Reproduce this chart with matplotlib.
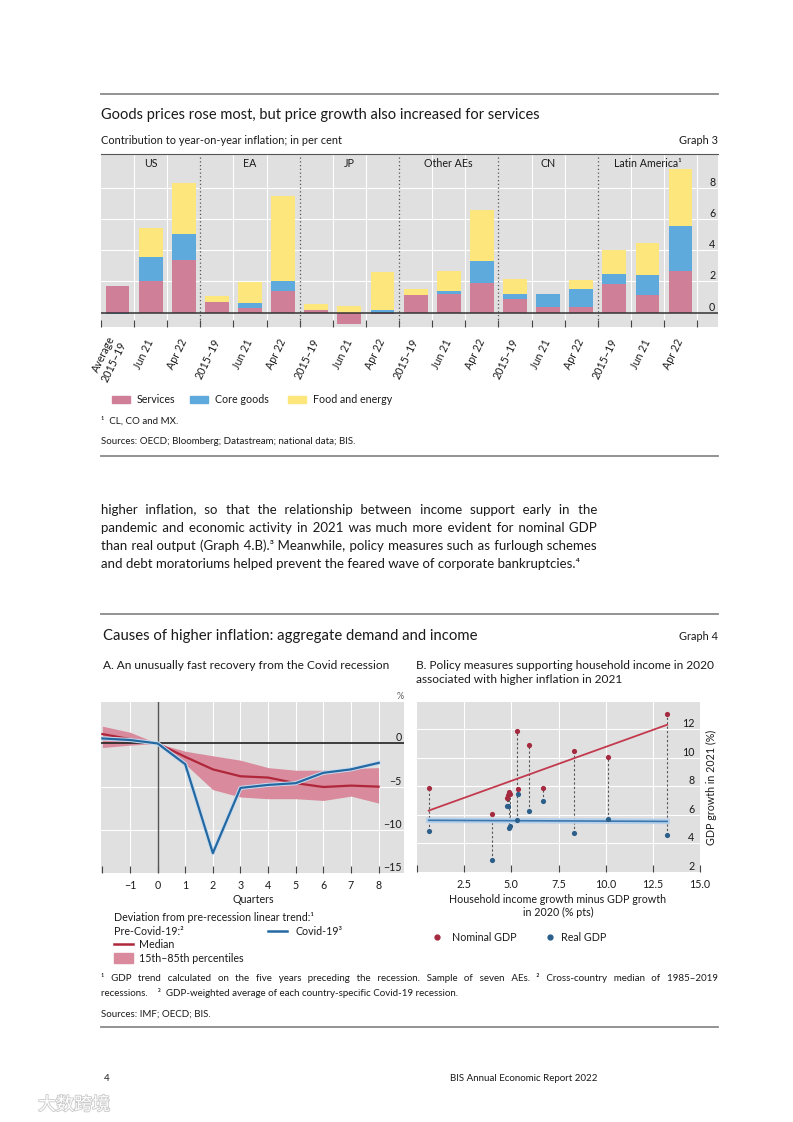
import numpy as np
import matplotlib
matplotlib.use("Agg")
import matplotlib.pyplot as plt
import matplotlib.transforms as mtransforms
import matplotlib.patheffects as pe
from matplotlib.lines import Line2D
from matplotlib.patches import Rectangle

plt.rcParams['font.family'] = ['Lato', 'DejaVu Sans']

W, H = 793, 1122

# ---- Graph 3: contributions to inflation (per cent)
regions = ["US", "EA", "JP", "Other AEs", "CN", "Latin America¹"]
periods = ["2015–19", "Jun 21", "Apr 22"]
services = [1.70, 2.00, 3.34, 0.68, 0.32, 1.38, 0.19, -0.74, -0.08,
            1.10, 1.17, 1.91, 0.85, 0.36, 0.36, 1.81, 1.15, 2.64]
core_goods = [-0.12, 1.55, 1.70, 0.00, 0.28, 0.64, 0.00, 0.00, 0.15,
              0.00, 0.19, 1.37, 0.32, 0.85, 1.13, 0.64, 1.23, 2.91]
food_energy = [0.00, 1.88, 3.26, 0.38, 1.36, 5.47, 0.34, 0.43, 2.45,
               0.40, 1.30, 3.29, 1.00, 0.00, 0.62, 1.53, 2.07, 3.64]

# ---- Graph 4.A: deviation from pre-recession trend (%)
quarters = [-2, -1, 0, 1, 2, 3, 4, 5, 6, 7, 8]
median = [1.09, 0.50, 0.0, -1.55, -3.00, -3.80, -3.95, -4.60, -5.04, -4.88, -5.00]
pct15 = [-0.47, -0.20, 0.0, -2.40, -5.35, -6.20, -6.40, -6.40, -6.60, -6.10, -6.90]
pct85 = [2.00, 1.30, 0.0, -0.90, -1.43, -1.94, -2.80, -3.10, -3.10, -2.90, -2.80]
covid = [0.58, 0.40, 0.0, -2.40, -12.70, -5.15, -4.80, -4.60, -3.40, -3.00, -2.25]

# ---- Graph 4.B: household income vs GDP growth
hh_income = [0.62, 3.99, 4.78, 4.84, 4.88, 4.92, 5.28, 5.37, 5.96, 6.70, 8.30, 10.10, 13.26]
nominal_gdp = [7.89, 6.06, 7.15, 7.38, 7.61, 7.47, 11.84, 7.80, 10.91, 7.89, 10.50, 10.04, 13.06]
real_gdp = [4.84, 2.83, 6.64, 6.60, 5.07, 5.19, 5.67, 7.45, 6.30, 6.97, 4.73, 5.72, 4.61]

GREY_BG = "#e0e0e0"
C_SERV = "#cf7f98"
C_CORE = "#5eaadd"
C_FOOD = "#fde77c"
C_RED = "#b0263a"
C_BAND = "#d98a9c"
C_BLUE = "#2468a2"
C_DOT_RED = "#a52a3f"
C_DOT_BLUE = "#2b5f8a"
TXT = "#1a1a1a"
HAIR = "\u200a"

fig = plt.figure(figsize=(W / 100, H / 100), dpi=100)
renderer = fig.canvas.get_renderer()


def fp(x, y):
    return x / W, 1 - y / H


def text_width(s, size):
    t = fig.text(0, 0, s, fontsize=size)
    w = t.get_window_extent(renderer).width
    t.remove()
    return w


def advance(s, size):
    # width a piece of text takes inside a line (without the bbox padding)
    return text_width("x" + s + "x", size) - text_width("xx", size)


def fit(s, width):
    return 10 * width / text_width(s, 10)


def put(x, y, s, size, ha="left", **kw):
    # y is the visual middle of lower-case text, placed through the baseline
    base = y + 0.35 * size * 100 / 72
    return fig.text(*fp(x, base), s, fontsize=size, ha=ha, va="baseline", color=TXT, **kw)


def justify(line, x0, x1, y, size, last=False):
    # one text object per line; word gaps are widened with hair spaces
    words = line.split()
    if last or len(words) < 2:
        put(x0, y, " ".join(words), size)
        return
    extra = (x1 - x0 - text_width(" ".join(words), size)) / (len(words) - 1)
    hair = advance(HAIR, size)
    out = words[0]
    for i, w in enumerate(words[1:]):
        k = round((i + 1) * extra / hair) - round(i * extra / hair)
        out += " " + HAIR * max(k, 0) + w
    put(x0, y, out, size)


def rule(y):
    fig.add_artist(Line2D([101 / W, 718 / W], [1 - y / H] * 2, color="#8a8a8a", lw=1.3))


def axes_px(l, t, r, b):
    ax = fig.add_axes([l / W, 1 - b / H, (r - l) / W, (b - t) / H])
    ax.set_facecolor(GREY_BG)
    for s in ax.spines.values():
        s.set_visible(False)
    return ax


def minus(v):
    return str(v).replace("-", "−")


s_title = fit("Goods prices rose most, but price growth also increased for services", 439)
s_sub = fit("Contribution to year-on-year inflation; in per cent", 240)
s_note = fit("Sources: OECD; Bloomberg; Datastream; national data; BIS.", 257)
s_axis = fit("Household income growth minus GDP growth", 216)
s_body = fit("and debt moratoriums helped prevent the feared wave of corporate bankruptcies.⁴", 483)

# ================= Graph 3 =================
rule(94)
put(101, 114, "Goods prices rose most, but price growth also increased for services", s_title)
put(101, 140, "Contribution to year-on-year inflation; in per cent", s_sub)
put(718, 140, "Graph 3", s_sub, ha="right")

ax3 = axes_px(101, 154, 718, 327)
ax3.spines["top"].set_visible(True)
ax3.spines["top"].set_color("#555555")
n = len(services)
xb = np.arange(n)
pos_base = np.zeros(n)
neg_base = np.zeros(n)
for vals, col in [(services, C_SERV), (core_goods, C_CORE), (food_energy, C_FOOD)]:
    v = np.array(vals)
    bottom = np.where(v >= 0, pos_base, neg_base)
    ax3.bar(xb, v, bottom=bottom, width=0.72, color=col, zorder=3)
    pos_base += np.clip(v, 0, None)
    neg_base += np.clip(v, None, 0)

ax3.set_xlim(-0.5, 18.13)
ax3.set_ylim(-0.92, 10.15)
for b in np.arange(-0.5, n, 1.0):
    if b in (2.5, 5.5, 8.5, 11.5, 14.5):
        ax3.axvline(b, color="#555555", lw=0.9, ls=(0, (1, 2)), zorder=4)
    elif b > 0:
        ax3.axvline(b, color="white", lw=0.8, zorder=1)
for g in [2, 4, 6, 8]:
    ax3.axhline(g, color="white", lw=0.8, zorder=1)
ax3.axhline(0, color="#333333", lw=1.1, zorder=5)

labels3 = ["Average\n2015–19"] + periods[1:] + periods * (len(regions) - 1)
ax3.set_xticks(xb)
ax3.set_xticklabels(labels3, rotation=64, ha="right", va="center",
                    rotation_mode="anchor", fontsize=s_axis, color=TXT)
ax3.tick_params(axis="x", which="major", length=0, pad=9)
ax3.set_xticks(np.arange(-0.5, n, 1.0), minor=True)
ax3.tick_params(axis="x", which="minor", direction="in", length=5, width=0.8, color="#444444")
ax3.yaxis.tick_right()
ax3.set_yticks([0, 2, 4, 6, 8])
ax3.tick_params(axis="y", length=0, pad=-2, labelsize=s_axis, labelcolor=TXT)
plt.setp(ax3.get_yticklabels(), ha="right", va="bottom")
tr3 = mtransforms.blended_transform_factory(ax3.transData, ax3.transAxes)
for i, r in enumerate(regions):
    ax3.text(3 * i + 1, 0.945, r, transform=tr3, ha="center", va="center",
             fontsize=s_axis, color=TXT, zorder=6)

for x0, col, lab in [(112, C_SERV, "Services"), (190, C_CORE, "Core goods"),
                     (288, C_FOOD, "Food and energy")]:
    fig.add_artist(Rectangle(fp(x0, 402.5), 18 / W, 7 / H, color=col))
    put(x0 + 25, 399, lab, s_axis)
put(101, 420, "¹  CL, CO and MX.", s_note)
put(101, 441, "Sources: OECD; Bloomberg; Datastream; national data; BIS.", s_note)
rule(456)

# ================= body text =================
body = [
    "higher inflation, so that the relationship between income support early in the",
    "pandemic and economic activity in 2021 was much more evident for nominal GDP",
    "than real output (Graph 4.B).³ Meanwhile, policy measures such as furlough schemes",
    "and debt moratoriums helped prevent the feared wave of corporate bankruptcies.⁴",
]
for i, line in enumerate(body):
    justify(line, 101, 597, 509 + 18 * i, s_body, last=(i == len(body) - 1))

# ================= Graph 4 =================
rule(614)
put(103, 635, "Causes of higher inflation: aggregate demand and income",
    fit("Causes of higher inflation: aggregate demand and income", 375))
put(718, 636, "Graph 4", s_sub, ha="right")
s_panel = fit("A. An unusually fast recovery from the Covid recession", 287)
put(103, 665, "A. An unusually fast recovery from the Covid recession", s_panel)
put(416, 665, "B. Policy measures supporting household income in 2020", s_panel)
put(416, 679, "associated with higher inflation in 2021", s_panel)

# ---- panel A
axA = axes_px(101, 702, 404, 873)
axA.set_xlim(-2.05, 8.92)
axA.set_ylim(-15, 4.8)
for q in range(-1, 9):
    axA.axvline(q, color="white", lw=0.8, zorder=1)
for g in [-5, -10]:
    axA.axhline(g, color="white", lw=0.8, zorder=1)
axA.fill_between(quarters, pct15, pct85, color=C_BAND, lw=0, zorder=2)
axA.axhline(0, color="#222222", lw=1.2, zorder=3)
axA.axvline(0, color="#555555", lw=1.0, zorder=3)
axA.plot(quarters, median, color=C_RED, lw=1.6, zorder=4)
axA.plot(quarters, covid, color=C_BLUE, lw=1.6, zorder=5,
         path_effects=[pe.Stroke(linewidth=3.0, foreground="#c9dcee"), pe.Normal()])
axA.set_xticks(quarters)
axA.set_xticklabels(["" if q == -2 else minus(q) for q in quarters], fontsize=s_axis, color=TXT)
axA.tick_params(axis="x", direction="in", length=5, width=0.8, color="#444444", pad=5)
axA.yaxis.tick_right()
axA.set_yticks([0, -5, -10, -15])
axA.set_yticklabels([minus(v) for v in [0, -5, -10, -15]])
axA.tick_params(axis="y", length=0, pad=-1.5, labelsize=s_axis, labelcolor=TXT)
plt.setp(axA.get_yticklabels(), ha="right", va="bottom")
put(400, 696, "%", s_axis * 0.85, ha="center", alpha=0.7)
put(253, 899, "Quarters", s_axis, ha="center")

put(114, 917, "Deviation from pre-recession linear trend:¹", s_axis)
put(114, 931, "Pre-Covid-19:²", s_axis)
fig.add_artist(Line2D([268 / W, 287 / W], [1 - 931 / H] * 2, color=C_BLUE, lw=1.8))
put(295, 931, "Covid-19³", s_axis)
fig.add_artist(Line2D([114 / W, 133 / W], [1 - 944 / H] * 2, color=C_RED, lw=1.8))
put(139, 944, "Median", s_axis)
fig.add_artist(Rectangle(fp(114, 963), 19 / W, 10 / H, color=C_BAND))
put(139, 958, "15th–85th percentiles", s_axis)

# ---- panel B
axB = axes_px(417, 702, 700, 872)
axB.set_xlim(0, 15)
axB.set_ylim(2, 13.9)
for g in [2.5, 5, 7.5, 10, 12.5]:
    axB.axvline(g, color="white", lw=0.8, zorder=1)
for g in [4, 6, 8, 10, 12]:
    axB.axhline(g, color="white", lw=0.8, zorder=1)
xi = np.array(hh_income)
xs = np.array([xi.min(), xi.max()])
kn = np.polyfit(xi, nominal_gdp, 1)
kr = np.polyfit(xi, real_gdp, 1)
axB.vlines(xi, real_gdp, nominal_gdp, colors="#555555", lw=0.8, linestyles=(0, (2, 2)), zorder=2)
axB.plot(xs, np.polyval(kr, xs), color="#3b78b0", lw=1.2, zorder=3,
         path_effects=[pe.Stroke(linewidth=4, foreground="#b7d0ea"), pe.Normal()])
axB.plot(xs, np.polyval(kn, xs), color="#c23a4e", lw=1.3, zorder=3)
axB.scatter(xi, nominal_gdp, s=14, color=C_DOT_RED, zorder=4, lw=0)
axB.scatter(xi, real_gdp, s=14, color=C_DOT_BLUE, zorder=4, lw=0)
xtB = [0, 2.5, 5, 7.5, 10, 12.5, 15]
axB.set_xticks(xtB)
axB.set_xticklabels(["" if v == 0 else f"{v:.1f}" for v in xtB], fontsize=s_axis, color=TXT)
axB.tick_params(axis="x", direction="in", length=5, width=0.8, color="#444444", pad=5)
axB.yaxis.tick_right()
axB.set_yticks([2, 4, 6, 8, 10, 12])
axB.tick_params(axis="y", length=0, pad=-4, labelsize=s_axis, labelcolor=TXT)
plt.setp(axB.get_yticklabels(), ha="right", va="bottom")
axB.text(1.042, 0.5, "GDP growth in 2021 (%)", transform=axB.transAxes, rotation=90,
         ha="center", va="center", fontsize=s_axis, color=TXT)
put(558, 899, "Household income growth minus GDP growth", s_axis, ha="center")
put(558, 912, "in 2020 (% pts)", s_axis, ha="center")
fig.add_artist(Line2D([437 / W], [1 - 937 / H], marker="o", ms=3.5, color=C_DOT_RED, lw=0))
put(452, 937, "Nominal GDP", s_axis)
fig.add_artist(Line2D([550 / W], [1 - 937 / H], marker="o", ms=3.5, color=C_DOT_BLUE, lw=0))
put(561, 937, "Real GDP", s_axis)

# ---- footnotes
justify("¹ GDP trend calculated on the five years preceding the recession. Sample of seven AEs.  "
        "² Cross-country median of 1985–2019", 101, 718, 978, s_note)
put(101, 993, "recessions.    ³  GDP-weighted average of each country-specific Covid-19 recession.", s_note)
put(101, 1013, "Sources: IMF; OECD; BIS.", s_note)
rule(1027)

# ---- page footer
put(104, 1078, "4", s_note)
put(597, 1078, "BIS Annual Economic Report 2022", s_note, ha="right")
fig.text(*fp(38, 1105), "大数跨境", fontsize=13, ha="left", va="center", color="white",
         family=["Noto Sans CJK SC", "DejaVu Sans"],
         path_effects=[pe.Stroke(linewidth=1.2, foreground="#c8c8c8"), pe.Normal()])

fig.savefig("out.png", dpi=100)
